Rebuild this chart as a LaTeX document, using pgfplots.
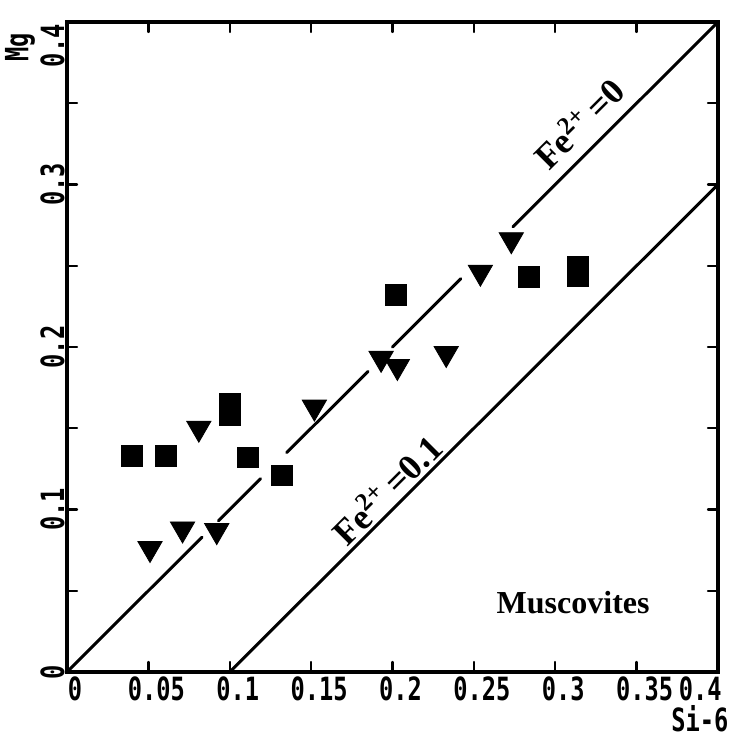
\documentclass[border=0pt]{standalone}
\usepackage{fontspec}
\setmainfont{Liberation Serif}
\newfontfamily\tickfont[FakeStretch=0.74]{DejaVu Sans Mono}
\usepackage{pgfplots}
\pgfplotsset{compat=1.18}
\newcommand{\tf}{\tickfont\bfseries\fontsize{16pt}{16pt}\selectfont}
\begin{document}
\begin{tikzpicture}
\begin{axis}[
 scale only axis, width=325.5pt, height=325pt,
 xmin=0, xmax=0.4, ymin=0, ymax=0.4,
 axis line style={line width=2pt},
 tick style={line width=1.2pt, black, line cap=round},
 major tick length=5pt,
 xtick={0,0.05,0.1,0.15,0.2,0.25,0.3,0.35},
 xticklabels={0,0.05,0.1,0.15,0.2,0.25,0.3,0.35},
 extra x ticks={0.4}, extra x tick labels={0.4},
 extra x tick style={xticklabel style={anchor=north east, xshift=0pt}},
 ytick={0,0.05,0.1,0.15,0.2,0.25,0.3,0.35},
 yticklabels={0,,0.1,,0.2,,0.3,},
 extra y ticks={0.4}, extra y tick labels={0.4},
 extra y tick style={yticklabel style={anchor=south east}},
 xticklabel style={font=\tf, anchor=north, xshift=4pt, inner sep=2pt},
 yticklabel style={font=\tf, rotate=90, anchor=south, inner sep=1pt},
 xlabel={Si-6},
 xlabel style={font=\tf, at={(rel axis cs:0.972,0)}, anchor=north, yshift=-16.5pt, inner sep=0pt},
 ylabel={Mg},
 ylabel style={font=\tf, at={(rel axis cs:-0.072,0.9615)}, anchor=center, inner sep=0pt},
]
% Fe2+ = 0 line (with gaps at markers)
\addplot[black, line width=1.5pt, line cap=round] coordinates {(0,0) (0.083,0.083)};
\addplot[black, line width=1.5pt, line cap=round] coordinates {(0.093,0.093) (0.119,0.119)};
\addplot[black, line width=1.5pt, line cap=round] coordinates {(0.135,0.135) (0.185,0.185)};
\addplot[black, line width=1.5pt, line cap=round] coordinates {(0.200,0.200) (0.242,0.242)};
\addplot[black, line width=1.5pt, line cap=round] coordinates {(0.274,0.274) (0.4,0.4)};
% Fe2+ = 0.1 line
\addplot[black, line width=1.5pt, line cap=round] coordinates {(0.1,0) (0.4,0.3)};
% squares
\addplot[only marks, mark=square*, mark size=5.2pt, black] coordinates {
 (0.040,0.133) (0.061,0.133) (0.100,0.158) (0.100,0.165) (0.111,0.132)
 (0.132,0.121) (0.202,0.232) (0.284,0.243) (0.314,0.2435) (0.314,0.2495)};
% down triangles
\addplot[only marks, mark=triangle*, mark options={rotate=180}, mark size=7pt, black] coordinates {
 (0.081,0.150) (0.071,0.088) (0.092,0.087) (0.051,0.076) (0.152,0.163)
 (0.193,0.193) (0.203,0.188) (0.233,0.196) (0.254,0.246) (0.273,0.266)};
\node[rotate=45, font=\bfseries\fontsize{18pt}{18pt}\selectfont] at (axis cs:0.314,0.338) {Fe\textsuperscript{2+}\,=0};
\node[rotate=45, font=\bfseries\fontsize{18pt}{18pt}\selectfont] at (axis cs:0.196,0.1126) {Fe\textsuperscript{2+}\,=0.1};
\node[font=\bfseries\fontsize{16pt}{16pt}\selectfont] at (axis cs:0.311,0.0425) {Muscovites};
\coordinate (ll) at (rel axis cs:0,0);
\coordinate (ur) at (rel axis cs:1,1);
\end{axis}
\pgfresetboundingbox
\path ([shift={(-33.5pt,-35pt)}]ll) rectangle ([shift={(14.5pt,11pt)}]ur);
\end{tikzpicture}
\end{document}
